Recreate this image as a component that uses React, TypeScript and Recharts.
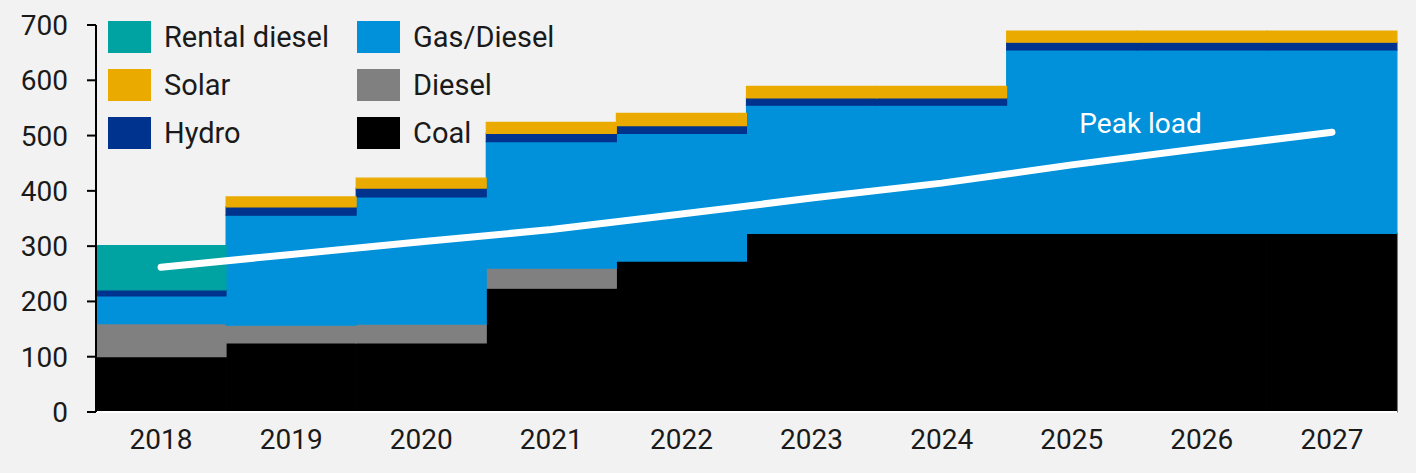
import React from "react";
import {
  ComposedChart,
  Bar,
  Line,
  XAxis,
  YAxis,
  LabelList,
} from "recharts";

const years = ["2018", "2019", "2020", "2021", "2022", "2023", "2024", "2025", "2026", "2027"];
const coal = [100, 125, 125, 224, 273, 323, 323, 323, 323, 323];
const diesel = [60, 32, 34, 36, 0, 0, 0, 0, 0, 0];
const gasDiesel = [50, 199, 230, 229, 231, 232, 232, 332, 332, 332];
const hydro = [11, 15, 16, 15, 14, 13, 13, 14, 14, 14];
const rentalDiesel = [80, 0, 0, 0, 0, 0, 0, 0, 0, 0];
const solar = [0, 18, 18, 20, 22, 21, 21, 20, 20, 20];
const peakLoad = [262, 285, 308, 330, 358, 387, 414, 447, 477, 506];
const yTicks = [0, 100, 200, 300, 400, 500, 600, 700];

const data = years.map((year, i) => ({
  year,
  coal: coal[i],
  diesel: diesel[i],
  gasDiesel: gasDiesel[i],
  hydro: hydro[i],
  rentalDiesel: rentalDiesel[i],
  solar: solar[i],
  peakLoad: peakLoad[i],
}));

// bottom-to-top stacking order
const series = [
  { key: "coal", name: "Coal", color: "#000000" },
  { key: "diesel", name: "Diesel", color: "#808080" },
  { key: "gasDiesel", name: "Gas/Diesel", color: "#0091DA" },
  { key: "hydro", name: "Hydro", color: "#00338D" },
  { key: "rentalDiesel", name: "Rental diesel", color: "#00A3A1" },
  { key: "solar", name: "Solar", color: "#EAAA00" },
];

// legend reads row by row, two columns
const legendOrder = ["rentalDiesel", "gasDiesel", "solar", "diesel", "hydro", "coal"];

const FONT = "Roboto, 'Liberation Sans', sans-serif";

const LegendBox: React.FC = () => (
  <div
    style={{
      position: "absolute",
      top: 21,
      left: 108,
      display: "grid",
      gridTemplateColumns: "249px 200px",
      gridAutoRows: "48px",
      fontFamily: FONT,
      fontSize: 29,
      color: "#1a1a1a",
    }}
  >
    {legendOrder.map((k) => {
      const s = series.find((x) => x.key === k)!;
      return (
        <div key={k} style={{ display: "flex", alignItems: "center", height: 32 }}>
          <span style={{ width: 43, height: 32, background: s.color, marginRight: 13, flexShrink: 0 }} />
          <span style={{ whiteSpace: "nowrap" }}>{s.name}</span>
        </div>
      );
    })}
  </div>
);

const PeakLabel: React.FC<any> = ({ x, y, index }) => {
  if (index !== 8) return null;
  return (
    <text x={x} y={y - 15} textAnchor="end" fill="#ffffff" fontSize={28} fontFamily={FONT}>
      Peak load
    </text>
  );
};

export default function App() {
  return (
    <div style={{ position: "absolute", left: 0, top: 0, width: 1416, height: 473, background: "#f2f2f2" }}>
      <ComposedChart
        width={1416}
        height={473}
        data={data}
        margin={{ top: 25, right: 19, left: 0, bottom: 0 }}
        barCategoryGap={0}
        barGap={0}
      >
        <XAxis
          dataKey="year"
          height={61}
          axisLine={{ stroke: "#ffffff", strokeWidth: 2 }}
          tickLine={false}
          tickMargin={11}
          tick={{ fill: "#1a1a1a", fontSize: 28, fontFamily: FONT }}
        />
        <YAxis
          width={96}
          domain={[0, 700]}
          ticks={yTicks}
          interval={0}
          axisLine={{ stroke: "#000000", strokeWidth: 2 }}
          tickLine={{ stroke: "#000000", strokeWidth: 2 }}
          tickSize={9}
          tickMargin={19}
          tick={{ fill: "#1a1a1a", fontSize: 28, fontFamily: FONT }}
        />
        {series.map((s) => (
          <Bar
            key={s.key}
            dataKey={s.key}
            name={s.name}
            stackId="gen"
            fill={s.color}
            stroke={s.color}
            strokeWidth={1.2}
            isAnimationActive={false}
          />
        ))}
        <Line
          dataKey="peakLoad"
          name="Peak load"
          type="linear"
          stroke="#ffffff"
          strokeWidth={7}
          strokeLinecap="round"
          dot={false}
          isAnimationActive={false}
        >
          <LabelList dataKey="peakLoad" content={<PeakLabel />} />
        </Line>
      </ComposedChart>
      <LegendBox />
    </div>
  );
}
